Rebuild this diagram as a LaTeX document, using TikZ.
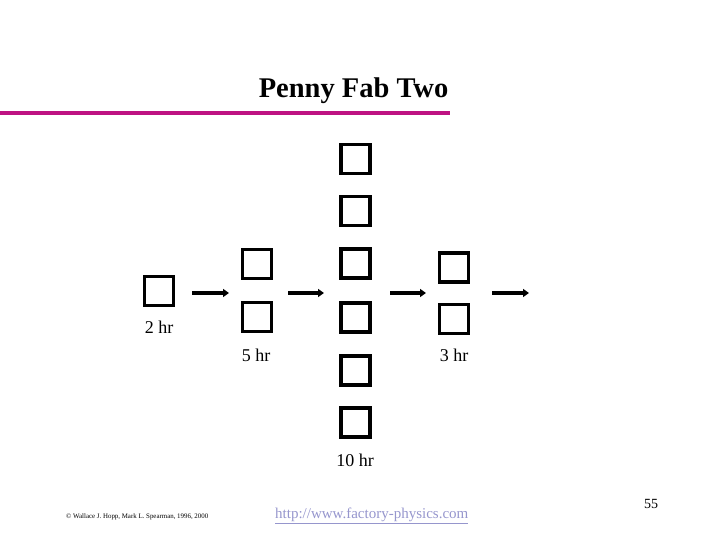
\documentclass[tikz,border=0pt]{standalone}
\usepackage{fontspec}
\setmainfont{Liberation Serif}
\usetikzlibrary{arrows.meta}
\definecolor{barmag}{RGB}{190,18,130}
\definecolor{urlcol}{RGB}{150,150,205}
\begin{document}
\begin{tikzpicture}[x=1pt,y=-1pt,
  mach/.style={draw=black,line width=3.2pt,minimum size=29pt,inner sep=0pt},
  flow/.style={line width=3.4pt,-{Triangle[length=6pt,width=8pt]}},
  lab/.style={font=\fontsize{18}{20}\selectfont,inner sep=0pt}]
\useasboundingbox (0,0) rectangle (720,540);
\node[font=\fontsize{28.5}{30}\selectfont\bfseries,inner sep=0pt] (title) at (353.5,91) {Penny Fab Two};
\fill[barmag] (0,111) rectangle (450,115.5);
% stations
\node[mach] (s1) at (159,291) {};
\node[mach] (s2a) at (257,264) {};
\node[mach] (s2b) at (257,317) {};
\node[mach] (s3a) at (355.5,159) {};
\node[mach] (s3b) at (355.5,211) {};
\node[mach] (s3c) at (355.5,263.5) {};
\node[mach] (s3d) at (355.5,317.5) {};
\node[mach] (s3e) at (355.5,370.5) {};
\node[mach] (s3f) at (355.5,422.5) {};
\node[mach] (s4a) at (454,267.5) {};
\node[mach] (s4b) at (454,319) {};
% labels
\node[lab] (l1) at (159,327) {2 hr};
\node[lab] (l2) at (256,355) {5 hr};
\node[lab] (l3) at (355,460) {10 hr};
\node[lab] (l4) at (454,355) {3 hr};
% arrows
\coordinate (a1s) at (192,293); \coordinate (a1e) at (229,293);
\coordinate (a2s) at (288,293); \coordinate (a2e) at (324,293);
\coordinate (a3s) at (390,293); \coordinate (a3e) at (426,293);
\coordinate (a4s) at (492,293); \coordinate (a4e) at (529,293);
\draw[flow] (a1s) -- (a1e);
\draw[flow] (a2s) -- (a2e);
\draw[flow] (a3s) -- (a3e);
\draw[flow] (a4s) -- (a4e);
% footer
\node[font=\fontsize{6.9}{8}\selectfont,anchor=west,inner sep=0pt] (copy) at (66,517) {© Wallace J. Hopp, Mark L. Spearman, 1996, 2000};
\node[font=\fontsize{15}{17}\selectfont,text=urlcol,anchor=west,inner sep=0pt] (url) at (275,516) {\underline{http://www.factory-physics.com}};
\node[font=\fontsize{14}{16}\selectfont,inner sep=0pt] (pg) at (651,504) {55};
\end{tikzpicture}
\end{document}
